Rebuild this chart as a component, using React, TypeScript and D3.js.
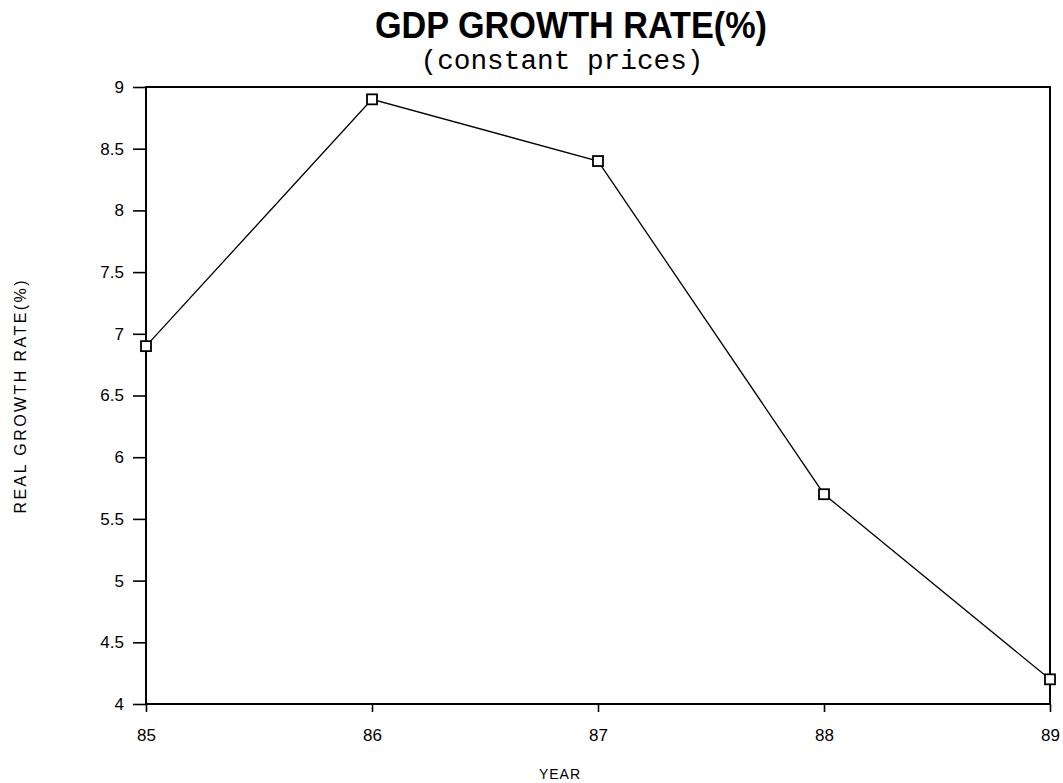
import React, { useEffect, useRef } from 'react';
import * as d3 from 'd3';

const years = ['85', '86', '87', '88', '89'];
const growthRate = [6.9, 8.9, 8.4, 5.7, 4.2];
const yTickValues = [4, 4.5, 5, 5.5, 6, 6.5, 7, 7.5, 8, 8.5, 9];

const App: React.FC = () => {
  const svgRef = useRef<SVGSVGElement>(null);

  useEffect(() => {
    if (!svgRef.current) return;

    const width = 1063;
    const height = 783;
    const margin = { top: 87, right: 13, bottom: 79, left: 146 };
    const innerW = width - margin.left - margin.right;
    const innerH = height - margin.top - margin.bottom;

    const svg = d3.select(svgRef.current).attr('width', width).attr('height', height);
    svg.selectAll('*').remove();

    svg.append('rect').attr('width', width).attr('height', height).attr('fill', '#fff');

    const g = svg.append('g').attr('transform', `translate(${margin.left},${margin.top})`);

    const x = d3.scalePoint<string>().domain(years).range([0, innerW]);
    const y = d3.scaleLinear().domain([4, 9]).range([innerH, 0]);

    // frame
    g.append('rect')
      .attr('x', 0)
      .attr('y', 0)
      .attr('width', innerW)
      .attr('height', innerH)
      .attr('fill', 'none')
      .attr('stroke', '#000')
      .attr('stroke-width', 2);

    // left axis, ticks outward
    const yAxis = g
      .append('g')
      .call(d3.axisLeft(y).tickValues(yTickValues).tickSize(13).tickPadding(9).tickFormat(d3.format('~g')));
    yAxis.select('.domain').remove();
    yAxis.selectAll('line').attr('stroke', '#000').attr('stroke-width', 1.6);
    yAxis
      .selectAll('text')
      .attr('fill', '#000')
      .style('font-family', '"Liberation Sans", Arial, sans-serif')
      .style('font-size', '17px');

    // bottom axis
    const xAxis = g
      .append('g')
      .attr('transform', `translate(0,${innerH})`)
      .call(d3.axisBottom(x).tickSize(8).tickPadding(17));
    xAxis.select('.domain').remove();
    xAxis.selectAll('line').attr('stroke', '#000').attr('stroke-width', 1.6);
    xAxis
      .selectAll('text')
      .attr('fill', '#000')
      .style('font-family', '"Liberation Sans", Arial, sans-serif')
      .style('font-size', '17px');

    // series line
    const line = d3
      .line<number>()
      .x((_, i) => x(years[i]) ?? 0)
      .y((d) => y(d));

    g.append('path')
      .datum(growthRate)
      .attr('d', line)
      .attr('fill', 'none')
      .attr('stroke', '#000')
      .attr('stroke-width', 1.3);

    const box = 10;
    g.selectAll('.marker')
      .data(growthRate)
      .enter()
      .append('rect')
      .attr('class', 'marker')
      .attr('x', (_, i) => (x(years[i]) ?? 0) - box / 2)
      .attr('y', (d) => y(d) - box / 2)
      .attr('width', box)
      .attr('height', box)
      .attr('fill', '#fff')
      .attr('stroke', '#000')
      .attr('stroke-width', 1.8);

    // titles
    svg
      .append('text')
      .attr('x', 571)
      .attr('y', 38)
      .attr('text-anchor', 'middle')
      .attr('textLength', 392)
      .attr('lengthAdjust', 'spacingAndGlyphs')
      .style('font-family', '"Liberation Sans", Arial, sans-serif')
      .style('font-weight', 'bold')
      .style('font-size', '36px')
      .text('GDP GROWTH RATE(%)');

    svg
      .append('text')
      .attr('x', 562)
      .attr('y', 69)
      .attr('text-anchor', 'middle')
      .attr('textLength', 283)
      .attr('lengthAdjust', 'spacingAndGlyphs')
      .style('font-family', '"Liberation Mono", "Courier New", monospace')
      .style('font-size', '27px')
      .text('(constant prices)');

    // axis titles
    svg
      .append('text')
      .attr('x', 560)
      .attr('y', 779)
      .attr('text-anchor', 'middle')
      .style('font-family', '"Liberation Sans", Arial, sans-serif')
      .style('font-size', '14px')
      .style('letter-spacing', '1px')
      .text('YEAR');

    svg
      .append('text')
      .attr('transform', 'translate(26,397) rotate(-90)')
      .attr('text-anchor', 'middle')
      .attr('textLength', 233)
      .attr('lengthAdjust', 'spacing')
      .style('font-family', '"Liberation Sans", Arial, sans-serif')
      .style('font-size', '16px')
      .text('REAL GROWTH RATE(%)');
  }, []);

  return (
    <div style={{ position: 'absolute', left: 0, top: 0 }}>
      <svg ref={svgRef}></svg>
    </div>
  );
};

export default App;
